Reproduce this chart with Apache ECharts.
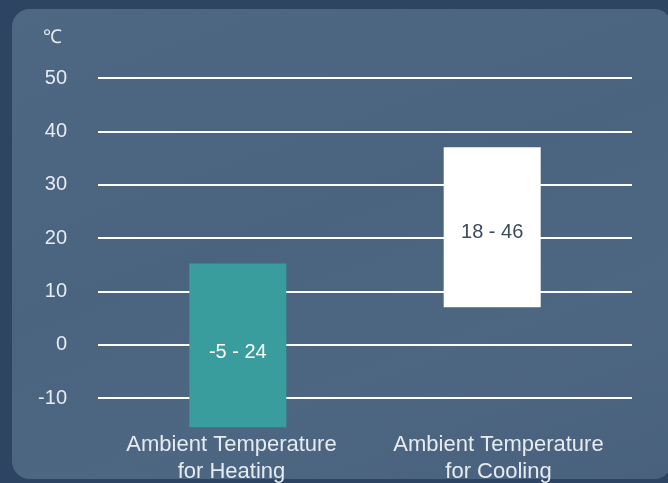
<!DOCTYPE html>
<html>
<head>
<meta charset="utf-8">
<script src="https://cdn.jsdelivr.net/npm/echarts@6/dist/echarts.min.js"></script>
<style>
  html, body { margin: 0; padding: 0; }
  body { width: 668px; height: 483px; background: #2d4563; overflow: hidden; position: relative; }
  #panel {
    position: absolute; left: 12px; top: 9px; width: 660px; height: 470px;
    border-radius: 18px;
    background: linear-gradient(160deg, #4e6782 0%, #4a637e 45%, #4d6681 70%, #49617c 100%);
  }
  #main { position: absolute; left: 0; top: 0; width: 668px; height: 483px; }
</style>
</head>
<body>
<div id="panel"></div>
<div id="main"></div>
<script>
// categories and ranges (bar extent as drawn, label text as printed)
var categories = ['Ambient Temperature\nfor Heating', 'Ambient Temperature\nfor Cooling'];
var heatLow = [-15.5, null];
var heatHigh = [15.2, null];
var coolLow = [null, 7];
var coolHigh = [null, 37];
var rangeLabels = ['-5 - 24', '18 - 46'];
var yTicks = [-10, 0, 10, 20, 30, 40, 50];

function diff(lo, hi) {
  return lo.map(function (v, i) { return v == null ? null : +(hi[i] - v).toFixed(2); });
}

var chart = echarts.init(document.getElementById('main'));
var font = 'Liberation Sans, Arial, sans-serif';

var option = {
  animation: false,
  grid: { left: 98, right: 36, top: 78, bottom: 85, containLabel: false, outerBoundsMode: 'none' },
  xAxis: {
    type: 'category',
    data: categories,
    axisLine: { show: false },
    axisTick: { show: false },
    axisLabel: {
      interval: 0,
      hideOverlap: false,
      margin: 33,
      color: '#e6ebf1',
      fontSize: 22,
      lineHeight: 27,
      fontFamily: font
    }
  },
  yAxis: {
    type: 'value',
    min: yTicks[0],
    max: yTicks[yTicks.length - 1],
    interval: 10,
    name: '℃',
    nameLocation: 'end',
    nameGap: 31,
    nameTextStyle: {
      color: '#e6ebf1',
      fontSize: 19,
      align: 'right',
      padding: [0, 36, 0, 0],
      fontFamily: font
    },
    axisLine: { show: false },
    axisTick: { show: false },
    axisLabel: {
      margin: 31,
      color: '#e6ebf1',
      fontSize: 20,
      fontFamily: font
    },
    splitLine: { lineStyle: { color: '#ffffff', width: 2 } }
  },
  series: [
    {
      type: 'bar', stack: 'cool', stackStrategy: 'all', clip: false,
      barWidth: 97, barGap: '-87%',
      data: coolLow,
      itemStyle: { color: 'rgba(0,0,0,0)' },
      silent: true
    },
    {
      type: 'bar', stack: 'cool', stackStrategy: 'all', clip: false,
      barWidth: 97, barGap: '-87%',
      data: diff(coolLow, coolHigh),
      itemStyle: { color: '#ffffff' },
      label: {
        show: true, position: 'inside', offset: [0, 5],
        formatter: function (p) { return rangeLabels[p.dataIndex]; },
        color: '#3b4b60', fontSize: 20, fontFamily: font
      }
    },
    {
      type: 'bar', stack: 'heat', stackStrategy: 'all', clip: false,
      barWidth: 97, barGap: '-87%',
      data: heatLow,
      itemStyle: { color: 'rgba(0,0,0,0)' },
      silent: true
    },
    {
      type: 'bar', stack: 'heat', stackStrategy: 'all', clip: false,
      barWidth: 97, barGap: '-87%',
      data: diff(heatLow, heatHigh),
      itemStyle: { color: '#399c9d' },
      label: {
        show: true, position: 'inside', offset: [0, 7],
        formatter: function (p) { return rangeLabels[p.dataIndex]; },
        color: '#ffffff', fontSize: 20, fontFamily: font
      }
    }
  ]
};

chart.setOption(option);
</script>
</body>
</html>
